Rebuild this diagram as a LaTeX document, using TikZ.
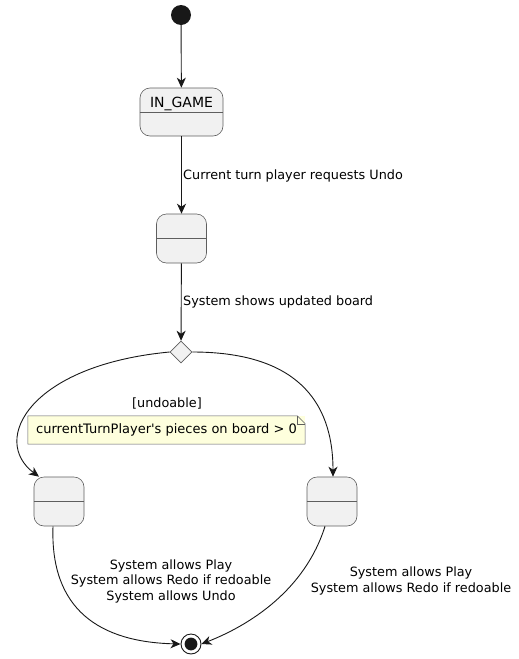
\documentclass[tikz,border=0pt]{standalone}
\usepackage{fontspec}
\setmainfont{DejaVu Sans}
\usetikzlibrary{arrows.meta,shapes.geometric}

\definecolor{statefill}{HTML}{F1F1F1}
\definecolor{stateline}{HTML}{5E5E5E}
\definecolor{notefill}{HTML}{FEFFDD}
\definecolor{ink}{HTML}{181818}

\tikzset{state/.style={draw=stateline,fill=statefill,rectangle,rounded corners=10pt,line width=0.6pt,
		minimum width=50pt,minimum height=49pt,inner sep=0pt,append after command={
		(\tikzlastnode.west) edge[draw=stateline,line width=0.6pt] (\tikzlastnode.east)
		}
	}
}
\tikzset{final/.style={draw=ink,circle,line width=0.9pt,minimum size=20pt,inner sep=0pt,
		path picture={\fill[ink] (path picture bounding box.center) circle (6.4pt);}
	}
}
\tikzstyle{initial}=[fill=ink,circle,minimum size=20pt,inner sep=0pt]
\tikzstyle{choice}=[draw=stateline,fill=statefill,diamond,line width=0.6pt,minimum size=22pt,inner sep=0pt]
\tikzstyle{note}=[fill=notefill,rectangle,minimum width=277pt,minimum height=28pt,inner sep=0pt,font=\fontsize{13}{15}\selectfont]
\tikzstyle{lbl}=[font=\fontsize{12.8}{15.5}\selectfont,align=center,inner sep=0pt]

\begin{document}
\begin{tikzpicture}[x=1pt,y=-1pt]
	\useasboundingbox (0,0) rectangle (519,659);
	\begin{scope}[>={Stealth[length=10pt,width=9pt,inset=3pt]}] %filled arrow tips
		\node (start)[initial] at (181,15) {};
		\node (ingame)[state,minimum width=83pt,minimum height=48pt,
			label={[anchor=north,inner sep=0pt,yshift=-9pt,font=\fontsize{14}{16}\selectfont]north:IN\_GAME}] at (181.5,112) {};
		\node (undo)[state] at (181.5,238.5) {};
		\node (dia)[choice] at (181,352) {};
		\node (undone)[state] at (59,501.5) {};
		\node (noundo)[state] at (332,501.5) {};
		\node (end)[final] at (191,644) {};

		\node (lreq)[lbl,anchor=west] at (183,176) {Current turn player requests Undo};
		\node (lshow)[lbl,anchor=west] at (183,302) {System shows updated board};
		\node (lguard)[lbl] at (167,403) {[undoable]};
		\node (cond)[note] at (166.5,430) {currentTurnPlayer\textquotesingle s pieces on board > 0};
		\draw[stateline,line width=0.5pt] (cond.north west) -- ([xshift=-8pt]cond.north east)
			-- ([yshift=-8pt]cond.north east) -- (cond.south east) -- (cond.south west) -- cycle;
		\draw[stateline,line width=0.5pt] ([xshift=-8pt]cond.north east) |- ([yshift=-8pt]cond.north east);
		\node (lleft)[lbl] at (171,581) {System allows Play\\System allows Redo if redoable\\System allows Undo};
		\node (lright)[lbl] at (411,581) {System allows Play\\System allows Redo if redoable};

		\draw[->,ink,line width=0.9pt] (start) -- (ingame);
		\draw[->,ink,line width=0.9pt] (ingame) -- (undo);
		\draw[->,ink,line width=0.9pt] (undo) -- (dia);
		\draw[->,ink,line width=0.9pt] (dia.west) .. controls (30,365) and (-10,440) .. ([xshift=-20pt]undone.north);
		\draw[->,ink,line width=0.9pt] (dia.east) .. controls (295,352) and (333,400) .. ([xshift=1pt]noundo.north);
		\draw[->,ink,line width=0.9pt] ([xshift=-6pt]undone.south) .. controls (50,610) and (100,642) .. (end.west);
		\draw[->,ink,line width=0.9pt] ([xshift=-7pt]noundo.south) .. controls (305,590) and (250,625) .. (end.east);
	\end{scope}
\end{tikzpicture}
\end{document}
